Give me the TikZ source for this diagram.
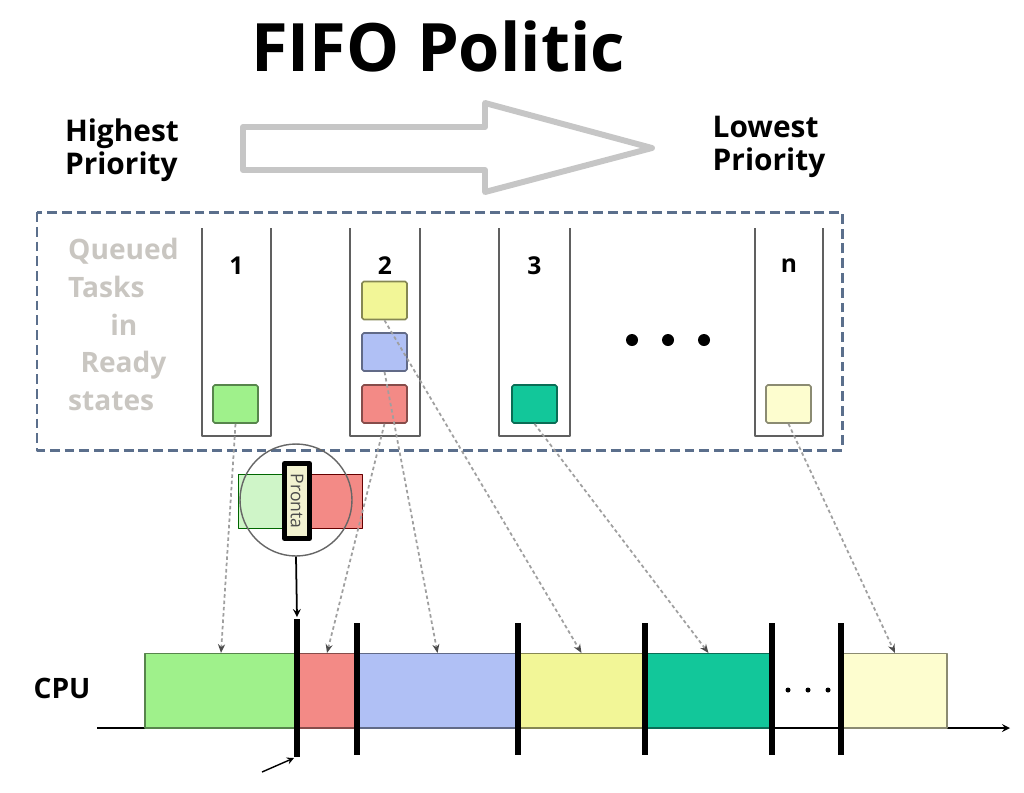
\documentclass[tikz,border=0pt]{standalone}
\usepackage{fontspec}
\setmainfont{Open Sans}
\usetikzlibrary{arrows.meta}
\definecolor{tgreen}{HTML}{9FF18B}
\definecolor{tred}{HTML}{F38A86}
\definecolor{tblue}{HTML}{B0C0F5}
\definecolor{tyellow}{HTML}{F2F697}
\definecolor{tteal}{HTML}{12C79A}
\definecolor{tcream}{HTML}{FDFDCF}
\definecolor{tpale}{HTML}{CFF5C8}
\definecolor{tlabel}{HTML}{F2F2D0}
\definecolor{boxline}{HTML}{5B6F8C}
\definecolor{faint}{HTML}{C9C6C1}
\tikzset{
  task/.style={draw=#1!55!black, fill=#1, line width=0.9pt, rounded corners=1pt,
    minimum width=0.9cm, minimum height=0.76cm, inner sep=0pt},
  slot/.style={draw=#1!55!black, fill=#1, line width=0.6pt, minimum height=1.5cm,
    inner sep=0pt, outer sep=0pt, anchor=south west},
  queue/.style={draw=gray!75!black, line width=1.2pt},
  feed/.style={-{Stealth[length=5pt,width=4pt,black!70]}, gray!75, line width=1pt, dash pattern=on 2pt off 1.6pt},
  sep/.style={line width=3.4pt, black},
  lbl/.style={font=\fontsize{14}{16}\selectfont\bfseries}
}
\begin{document}
\begin{tikzpicture}[x=0.02cm, y=-0.02cm, line join=round, >=stealth]
\useasboundingbox (0,0) rectangle (1024,792);
% title and priority arrow
\node (title) at (438,46) {\fontsize{38}{40}\selectfont\bfseries FIFO Politic};
\node[align=left, font=\fontsize{17}{19}\selectfont\bfseries] (high) at (122,150) {Highest\\Priority};
\node[align=left, font=\fontsize{17}{19}\selectfont\bfseries] (low) at (769,147) {Lowest\\Priority};
\draw[gray!45, line width=3.4pt] (243,127)--(485,127)--(485,103)--(652,148)--(485,192)--(485,170)--(243,170)--cycle;
% ready queues
\draw[boxline, line width=1.7pt, dash pattern=on 5.6pt off 2.8pt] (37,212) rectangle (842,450);
\node[faint, anchor=north west, align=left, font=\fontsize{16}{21.5}\selectfont\bfseries] (qtext) at (62,232)
  {Queued\\Tasks\\\hspace*{24pt}in\\\hspace*{7pt}Ready\\states};
\foreach \l/\r/\t/\n in {202/271/1/q1,350/420/2/q2,499/570/3/q3,755/823/n/qn}{
  \draw[queue] (\l,228) |- (\r,436) -- (\r,228);
  \node[lbl] (\n) at ({(\l+\r)/2},266) {\t};
}
\node[task=tgreen] (g1) at (235.5,404) {};
\node[task=tyellow] (y2) at (384.5,300.5) {};
\node[task=tblue] (b2) at (384.5,352) {};
\node[task=tred] (r2) at (384.5,404) {};
\node[task=tteal] (t3) at (534.5,404) {};
\node[task=tcream] (cn) at (788.5,404) {};
\foreach \x in {632,668,704}
  \fill (\x,340) circle (6);
% zoom on the switch
\fill[tpale, draw=green!40!black, line width=0.5pt] (238,474) rectangle (300,528);
\fill[tred, draw=red!40!black, line width=0.5pt] (300,474) rectangle (362,528);
\node[circle, draw=gray!80!black, line width=0.8pt, minimum size=2.24cm] (lens) at (296,500) {};
\node[draw=black, line width=2.8pt, fill=tlabel, minimum width=0.5cm, minimum height=1.5cm,
  inner sep=0pt] (pronta) at (297,501) {\rotatebox{-90}{\fontsize{10}{10}\selectfont\color{gray!60!black}Pronta}};
% cpu timeline
\draw[->, line width=1pt] (97,728) -- (1010,728);
\node[font=\fontsize{16}{18}\selectfont\bfseries] (cpu) at (62,688) {CPU};
\foreach \l/\r/\c/\n in {145/297/tgreen/s1,297/357/tred/s2,357/518/tblue/s3,518/645/tyellow/s4,645/772/tteal/s5,843/947/tcream/s6}
  \node[slot=\c, minimum width={(\r-\l)*0.02cm}] (\n) at (\l,728) {};
\foreach \x in {788,808,828}
  \fill (\x,690) circle (2.5);
\coordinate (ptop) at (297,617);
\coordinate (pbot) at (294,758);
\coordinate (pin) at (262,772);
\draw[sep] (297,619) -- (297,757);
\foreach \x in {357,518,645,772,841}
  \draw[sep] (\x,623) -- (\x,755);
\draw[->, line width=1pt] (lens.south) -- (ptop);
\draw[->, line width=0.8pt] (pin) -- (pbot);
% feeds from queues to cpu
\draw[feed] (g1.south) -- (s1.north);
\draw[feed] (r2.south) -- (s2.north);
\draw[feed] (b2.south) -- (s3.north);
\draw[feed] (y2.south) -- (s4.north);
\draw[feed] (t3.south) -- (s5.north);
\draw[feed] (cn.south) -- (s6.north);
\end{tikzpicture}
\end{document}
